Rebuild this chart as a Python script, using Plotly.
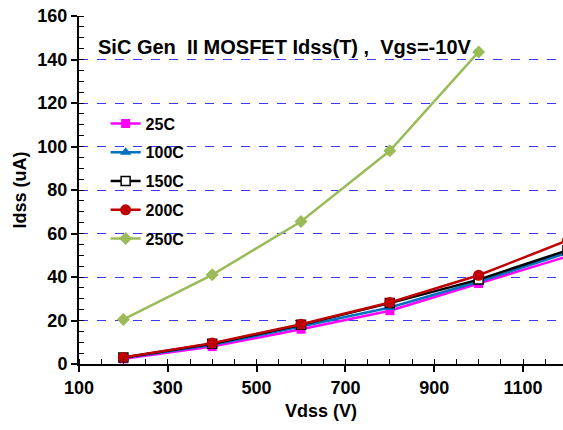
import plotly.graph_objects as go

vdss = [200, 400, 600, 800, 1000, 1200]
vdss_250 = [200, 400, 600, 800, 1000]
idss_25 = [2.4, 8.0, 16.0, 24.5, 37.0, 49.5]
idss_100 = [2.8, 8.8, 17.2, 26.0, 37.8, 51.2]
idss_150 = [3.0, 9.3, 18.0, 28.0, 38.8, 52.3]
idss_200 = [3.0, 9.6, 18.3, 28.3, 40.8, 56.8]
idss_250 = [20.5, 41.0, 65.5, 98.0, 143.5]
x_ticks = [100, 300, 500, 700, 900, 1100]
y_ticks = [0, 20, 40, 60, 80, 100, 120, 140, 160]

series = [
    ("25C", vdss, idss_25, "#FF00FF", dict(symbol="square", size=9, color="#FF00FF")),
    ("100C", vdss, idss_100, "#0070C0", dict(symbol="triangle-up", size=10, color="#0070C0")),
    ("150C", vdss, idss_150, "#000000", dict(symbol="square", size=9, color="#FFFFFF", line=dict(width=1.5, color="#000000"))),
    ("200C", vdss, idss_200, "#C00000", dict(symbol="circle", size=11, color="#C00000")),
    ("250C", vdss_250, idss_250, "#9BBB59", dict(symbol="diamond", size=10, color="#9BBB59")),
]

fig = go.Figure()
for name, xs, ys, col, mk in series:
    fig.add_trace(go.Scatter(x=xs, y=ys, name="<b>%s</b>" % name, mode="lines+markers",
                             line=dict(color=col, width=2.5), marker=mk,
                             legendgroup=name))

font_family = "Liberation Sans, Arial, sans-serif"
fig.update_layout(
    width=563, height=430,
    margin=dict(l=79, r=0, t=16, b=66),
    plot_bgcolor="white", paper_bgcolor="white",
    font=dict(family=font_family, color="black"),
    showlegend=True,
    legend=dict(x=0.055, y=0.74, xanchor="left", yanchor="top",
                bgcolor="rgba(0,0,0,0)", tracegroupgap=5,
                font=dict(size=16, family=font_family, weight="bold")),
    annotations=[dict(text="<b>SiC Gen  II MOSFET Idss(T) ,  Vgs=-10V</b>",
                      xref="paper", yref="paper", x=0.035, y=(364.5 - 47) / 348.5,
                      xanchor="left", yanchor="middle", showarrow=False,
                      font=dict(size=20, family=font_family))],
)
fig.update_xaxes(range=[100, 1190], tickvals=x_ticks, ticktext=["<b>%d</b>" % v for v in x_ticks],
                 showgrid=False, zeroline=False,
                 showline=True, linecolor="black", linewidth=2,
                 ticks="outside", ticklen=6, tickwidth=1.5, tickcolor="black",
                 minor=dict(dtick=50, tick0=100, ticks="inside", ticklen=5, tickcolor="black", tickwidth=1),
                 tickfont=dict(size=18, weight="bold"),
                 title=dict(text="<b>Vdss (V)</b>", font=dict(size=18), standoff=8))
fig.update_yaxes(range=[0, 160], tickvals=y_ticks, ticktext=["<b>%d</b>" % v for v in y_ticks],
                 showgrid=True, gridcolor="#3A3AFF", griddash="dash", gridwidth=1,
                 zeroline=False,
                 showline=True, linecolor="black", linewidth=2,
                 ticks="outside", ticklen=6, tickwidth=1.5, tickcolor="black",
                 minor=dict(dtick=5, ticks="inside", ticklen=5, tickcolor="black", tickwidth=1, showgrid=False),
                 tickfont=dict(size=18, weight="bold"),
                 title=dict(text="<b>Idss (uA)</b>", font=dict(size=18), standoff=6))

fig.write_html("out.html")
